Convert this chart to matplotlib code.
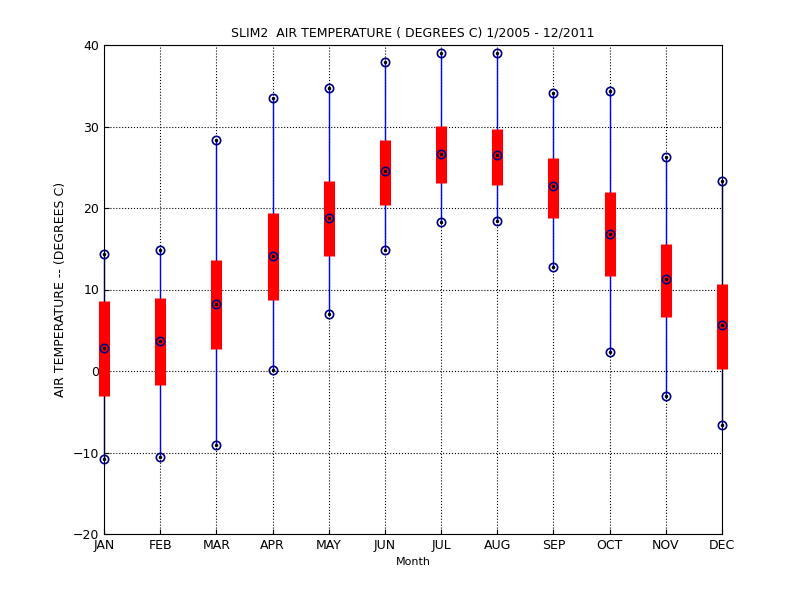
import matplotlib
matplotlib.use("Agg")
import matplotlib.pyplot as plt

months = ["JAN","FEB","MAR","APR","MAY","JUN","JUL","AUG","SEP","OCT","NOV","DEC"]
tmax = [14.4,14.8,28.3,33.5,34.7,37.9,39.0,39.0,34.1,34.4,26.3,23.3]
q3 = [8.6,9.0,13.6,19.4,23.3,28.3,30.1,29.7,26.1,22.0,15.6,10.7]
med = [2.8,3.7,8.2,14.1,18.8,24.5,26.6,26.5,22.7,16.8,11.3,5.6]
q1 = [-3.1,-1.7,2.7,8.7,14.1,20.4,23.1,22.8,18.8,11.7,6.6,0.2]
tmin = [-10.8,-10.6,-9.1,0.1,7.0,14.8,18.3,18.4,12.8,2.3,-3.1,-6.6]

fig = plt.figure(figsize=(8,6), dpi=100)
ax = fig.add_axes([0.13, 0.11, 0.7725, 0.815])
x = list(range(1, 13))
for i in x:
    k = i-1
    ax.plot([i,i],[tmin[k],tmax[k]], color='blue', lw=1, zorder=2, clip_on=False)
    ax.plot([i,i],[q1[k],q3[k]], color='red', lw=8, solid_capstyle='butt', zorder=3, clip_on=False)
for ys in (tmax, med, tmin):
    ax.plot(x, ys, 'o', ls='none', mfc='none', mec='#000080', ms=6, mew=1.2, zorder=4, clip_on=False)
    ax.plot(x, ys, '.', ls='none', color='black', ms=3, zorder=5, clip_on=False)
ax.set_xlim(1, 12)
ax.set_ylim(-20, 40)
ax.set_xticks(x)
ax.set_xticklabels(months)
ax.set_yticks(range(-20, 41, 10))
ax.grid(True, ls=':', color='black', lw=0.8)
ax.tick_params(direction='in', labelsize=9)
ax.set_xlabel("Month", fontsize=8)
ax.set_ylabel("AIR TEMPERATURE -- (DEGREES C)", fontsize=9)
ax.set_title("SLIM2  AIR TEMPERATURE ( DEGREES C) 1/2005 - 12/2011", fontsize=9)
fig.savefig("out.png")
